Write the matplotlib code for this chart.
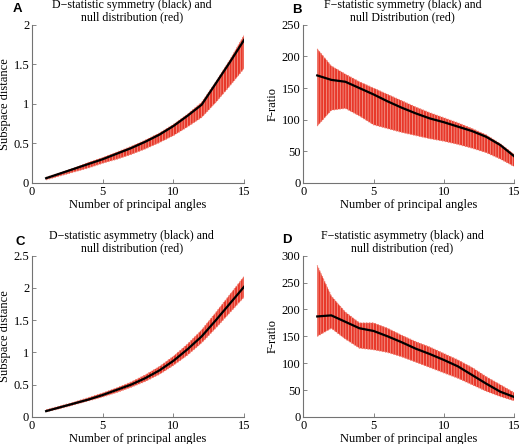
import matplotlib
matplotlib.use("Agg")
import matplotlib.pyplot as plt
import numpy as np

# number of principal angles
angles = np.arange(1, 16)

# A: D-statistic symmetry
d_sym = [0.06, 0.12, 0.18, 0.24, 0.30, 0.37, 0.44, 0.52, 0.61, 0.72, 0.85, 0.99, 1.26, 1.53, 1.81]
d_sym_lo = [0.04, 0.09, 0.14, 0.19, 0.25, 0.30, 0.36, 0.43, 0.51, 0.60, 0.71, 0.83, 1.02, 1.23, 1.45]
d_sym_hi = [0.07, 0.13, 0.19, 0.26, 0.32, 0.39, 0.46, 0.54, 0.63, 0.74, 0.87, 1.02, 1.28, 1.56, 1.87]

# B: F-statistic symmetry
f_sym = [170, 163, 160, 150, 140, 129, 119, 110, 102, 96, 89, 82, 73, 60, 42]
f_sym_lo = [90, 115, 118, 106, 92, 86, 80, 75, 70, 66, 61, 55, 48, 38, 26]
f_sym_hi = [212, 185, 172, 160, 150, 140, 130, 120, 111, 103, 95, 86, 76, 62, 45]

# C: D-statistic asymmetry
d_asym = [0.09, 0.15, 0.21, 0.27, 0.34, 0.42, 0.50, 0.60, 0.72, 0.87, 1.05, 1.25, 1.50, 1.76, 2.02]
d_asym_lo = [0.08, 0.13, 0.19, 0.25, 0.31, 0.38, 0.46, 0.55, 0.66, 0.80, 0.96, 1.15, 1.38, 1.62, 1.86]
d_asym_hi = [0.11, 0.17, 0.23, 0.30, 0.37, 0.45, 0.54, 0.65, 0.78, 0.94, 1.13, 1.35, 1.62, 1.90, 2.18]

# D: F-statistic asymmetry
f_asym = [187, 189, 177, 165, 160, 150, 139, 127, 117, 106, 94, 78, 62, 47, 37]
f_asym_lo = [150, 165, 145, 128, 125, 120, 112, 102, 92, 82, 72, 60, 48, 38, 30]
f_asym_hi = [282, 225, 195, 175, 175, 165, 152, 140, 130, 118, 106, 92, 75, 60, 45]

RED = '#e8382a'
SERIF = 'Liberation Serif'
plt.rcParams['hatch.linewidth'] = 0.5

fig = plt.figure(figsize=(5.2, 4.44), dpi=100)

panels = [
    ("A", [0.0615, 0.588, 0.408, 0.356], d_sym, d_sym_lo, d_sym_hi, (0, 2), [0, 0.5, 1, 1.5, 2],
     ["0", "0.5", "1", "1.5", "2"], "Subspace distance",
     "D\u2212statistic symmetry (black) and\nnull distribution (red)", (0.025, 0.994)),
    ("B", [0.583, 0.588, 0.406, 0.356], f_sym, f_sym_lo, f_sym_hi, (0, 250), [0, 50, 100, 150, 200, 250],
     ["0", "50", "100", "150", "200", "250"], "F-ratio",
     "F\u2212statistic symmetry (black) and\nnull Distribution (red)", (0.562, 0.99)),
    ("C", [0.0615, 0.061, 0.408, 0.363], d_asym, d_asym_lo, d_asym_hi, (0, 2.5), [0, 0.5, 1, 1.5, 2, 2.5],
     ["0", "0.5", "1", "1.5", "2", "2.5"], "Subspace distance",
     "D\u2212statistic asymmetry (black) and\nnull distribution (red)", (0.03, 0.468)),
    ("D", [0.583, 0.061, 0.406, 0.363], f_asym, f_asym_lo, f_asym_hi, (0, 300), [0, 50, 100, 150, 200, 250, 300],
     ["0", "50", "100", "150", "200", "250", "300"], "F-ratio",
     "F\u2212statistic asymmetry (black) and\nnull distribution (red)", (0.542, 0.472)),
]

for letter, pos, obs, lo, hi, ylim, yt, ytl, ylab, title, lpos in panels:
    ax = fig.add_axes(pos)
    # null distribution band
    ax.fill_between(angles, lo, hi, facecolor=RED, edgecolor='#f5a89c', hatch='||||||', lw=0)
    ax.plot(angles, lo, ls=':', color='#f07a6c', lw=0.8)
    ax.plot(angles, hi, ls=':', color='#f07a6c', lw=0.8)
    # observed statistic
    ax.plot(angles, obs, color='black', lw=1.6)

    ax.set_xlim(0, 15)
    ax.set_ylim(*ylim)
    ax.set_xticks([0, 5, 10, 15])
    ax.set_yticks(yt)
    ax.set_yticklabels(ytl)
    ax.spines['top'].set_visible(False)
    ax.spines['right'].set_visible(False)
    for s in ('left', 'bottom'):
        ax.spines[s].set_color('0.45')
        ax.spines[s].set_linewidth(0.8)
    ax.tick_params(direction='in', length=3, width=0.6, color='0.45', labelsize=9, pad=2)
    for lbl in ax.get_xticklabels() + ax.get_yticklabels():
        lbl.set_fontfamily(SERIF)
    ax.set_xlabel("Number of principal angles", fontfamily=SERIF, fontsize=9, labelpad=1)
    ax.set_ylabel(ylab, fontfamily=SERIF, fontsize=9, labelpad=2)
    ax.set_title(title, fontfamily=SERIF, fontsize=8.6, x=0.47, pad=3, linespacing=1.05)
    fig.text(lpos[0], lpos[1], letter, fontfamily='Liberation Sans', fontweight='bold',
             fontsize=9.5, va='top', ha='left')

plt.savefig("out.png", dpi=100)
